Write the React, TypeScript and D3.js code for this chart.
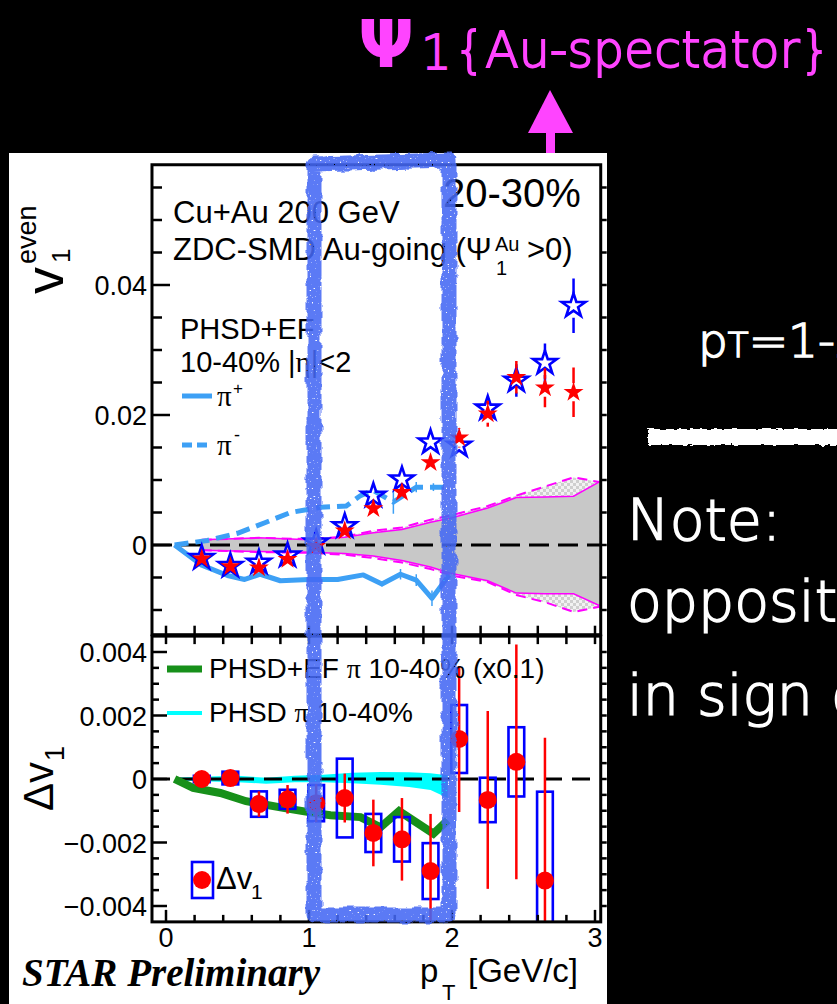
import React from 'react';
import * as d3 from 'd3';

// ---- v1 even vs pT (upper panel) ----
const ptBins = [0.25, 0.45, 0.65, 0.85, 1.05, 1.25, 1.45, 1.65, 1.85, 2.05, 2.25, 2.45, 2.65, 2.85];
const v1Filled = [-0.0021, -0.0033, -0.0035, -0.0022, -0.0002, 0.0022, 0.0056, 0.0081, 0.0127, 0.0165, 0.0202, 0.0258, 0.0242, 0.0235];
const v1FilledErr = [0.0005, 0.0005, 0.0005, 0.0005, 0.0006, 0.0007, 0.0008, 0.0010, 0.0012, 0.0015, 0.0020, 0.0025, 0.0030, 0.0038];
const v1Open = [-0.0020, -0.0032, -0.0027, -0.0016, 0.0004, 0.0029, 0.0076, 0.0101, 0.0158, 0.0153, 0.0210, 0.0253, 0.0280, 0.0368];
const v1OpenErr = [0.0005, 0.0005, 0.0005, 0.0005, 0.0006, 0.0007, 0.0009, 0.0011, 0.0013, 0.0015, 0.0016, 0.0025, 0.0030, 0.0042];

// systematic band around zero (solid and dashed variants)
const bandPt = [0.25, 0.65, 1.0, 1.25, 1.45, 1.65, 1.85, 2.0, 2.25, 2.45, 2.65, 2.85, 3.03];
const bandHi = [0.0008, 0.0011, 0.0008, 0.0012, 0.0019, 0.0024, 0.0035, 0.0042, 0.0057, 0.0073, 0.0074, 0.0075, 0.0097];
const bandLo = [-0.0008, -0.0010, -0.0011, -0.0013, -0.0017, -0.0024, -0.0034, -0.0044, -0.0055, -0.0074, -0.0075, -0.0075, -0.0093];
const bandDashHi = [0.0008, 0.0011, 0.0009, 0.0013, 0.0022, 0.0027, 0.0039, 0.0046, 0.0060, 0.0076, 0.0090, 0.0104, 0.0097];
const bandDashLo = [-0.0008, -0.0011, -0.0012, -0.0015, -0.0020, -0.0027, -0.0037, -0.0047, -0.0057, -0.0077, -0.0088, -0.0103, -0.0095];

// PHSD+EF model curves
const piPlusPt = [0.06, 0.25, 0.43, 0.55, 0.66, 0.8, 1.0, 1.2, 1.38, 1.51, 1.64, 1.75, 1.86, 1.98];
const piPlusV1 = [0, -0.0031, -0.0047, -0.0053, -0.0045, -0.0055, -0.0053, -0.0053, -0.0046, -0.0060, -0.0045, -0.0054, -0.0082, -0.0046];
const piPlusErr = [0, 0, 0, 0, 0, 0, 0, 0, 0, 0.0004, 0.0008, 0.0009, 0.0012, 0];
const piMinusPt = [0.06, 0.29, 0.5, 0.7, 0.87, 1.08, 1.26, 1.36, 1.45, 1.59, 1.75, 1.87, 1.95];
const piMinusV1 = [0, 0.0007, 0.0018, 0.0035, 0.0050, 0.0058, 0.0060, 0.0076, 0.0084, 0.0066, 0.0089, 0.0089, 0.0089];
const piMinusErr = [0, 0, 0, 0, 0, 0, 0, 0, 0, 0.0018, 0.0008, 0.0006, 0];

// ---- Delta v1 vs pT (lower panel) ----
const dv1Pt = [0.25, 0.45, 0.65, 0.85, 1.05, 1.25, 1.45, 1.65, 1.85, 2.05, 2.25, 2.45, 2.65];
const dv1 = [0.0000, 0.00003, -0.00079, -0.00064, -0.00076, -0.0006, -0.0017, -0.0019, -0.0029, 0.00126, -0.00066, 0.00054, -0.0032];
const dv1Stat = [0.0001, 0.00025, 0.0004, 0.00045, 0.0006, 0.00077, 0.00105, 0.0013, 0.0018, 0.0023, 0.0028, 0.0037, 0.0045];
const dv1Sys = [0.0001, 0.0002, 0.0004, 0.0003, 0.00057, 0.00124, 0.0006, 0.0007, 0.00088, 0.00107, 0.0007, 0.00109, 0.0028];

const efPt = [0.06, 0.19, 0.38, 0.56, 0.82, 1.02, 1.15, 1.36, 1.5, 1.63, 1.87, 1.97];
const efDv1 = [0, -0.00028, -0.00044, -0.0007, -0.00091, -0.00106, -0.00114, -0.0012, -0.00152, -0.00101, -0.00172, -0.0013];

const phsdPt = [0.1, 0.3, 0.5, 0.7, 0.9, 1.1, 1.3, 1.5, 1.7, 1.85, 1.97];
const phsdHi = [0.00005, 0.00008, 0.0001, 0.00004, 0.0001, 0.00013, 0.0002, 0.00022, 0.00021, 0.00018, 0.00012];
const phsdLo = [-0.00005, -0.00008, -0.0001, -0.00015, -0.0001, -0.0001, -0.00013, -0.00018, -0.00025, -0.00035, -0.0006];

// ---- axis labels ----
const v1TickValues = [0, 0.02, 0.04];
const dv1TickValues = [-0.004, -0.002, 0, 0.002, 0.004];
const ptTickValues = [0, 1, 2, 3];

const SANS = 'Liberation Sans, Arial, Helvetica, sans-serif';
const SERIF = 'Liberation Serif, Times New Roman, serif';
const SLIDE = 'DejaVu Sans, Verdana, sans-serif';
const MAGENTA = '#ff44ff';

export default function App() {
  const x = d3.scaleLinear().domain([0, 3]).range([166, 595]);
  const yT = d3.scaleLinear().domain([0, 0.04]).range([545, 285]);
  const yB = d3.scaleLinear().domain([0, 0.004]).range([779, 652]);

  const L = x(-0.098);
  const R = x(3.04);
  const tTop = yT(0.0585);
  const tBot = yT(-0.0138);
  const bTop = yB(0.0045);
  const bBot = yB(-0.0045);

  const star = (r: number) => d3.symbol(d3.symbolStar, (r * r) / 0.8908130915292852)() as string;
  const lineT = d3.line<[number, number]>().x(d => x(d[0])).y(d => yT(d[1]));
  const lineB = d3.line<[number, number]>().x(d => x(d[0])).y(d => yB(d[1]));
  const areaT = (hi: number[], lo: number[]) =>
    d3.area<number>().x((_, i) => x(bandPt[i])).y0((_, i) => yT(lo[i])).y1((_, i) => yT(hi[i]))(bandPt) as string;
  const areaB = d3.area<number>().x(d => x(d)).y0((_, i) => yB(phsdLo[i])).y1((_, i) => yB(phsdHi[i]))(phsdPt) as string;

  const fmtTop = (v: number) => (v === 0 ? '0' : d3.format('.2f')(v));
  const fmtBot = (v: number) => (v === 0 ? '0' : d3.format('.3f')(v));

  const topMinor = d3.range(-2, 12).map(i => ({ v: i * 0.005, major: i % 4 === 0 }));
  const botMinor = d3.range(-8, 9).map(i => ({ v: i * 0.0005, major: i % 4 === 0 }));
  const ptMinor = d3.range(0, 16).map(i => ({ v: i * 0.2, major: i % 5 === 0 }));

  // error bar split around an open/filled marker
  const gappedErr = (cx: number, v: number, e: number, gap: number, color: string, key: string) => {
    const cy = yT(v);
    const hi = yT(v + e);
    const lo = yT(v - e);
    const segs: JSX.Element[] = [];
    if (hi < cy - gap) segs.push(<line key={key + 'a'} x1={cx} x2={cx} y1={hi} y2={cy - gap} stroke={color} strokeWidth={2.5} />);
    if (lo > cy + gap) segs.push(<line key={key + 'b'} x1={cx} x2={cx} y1={cy + gap} y2={lo} stroke={color} strokeWidth={2.5} />);
    return segs;
  };

  const boxHalf = 0.055;

  return (
    <svg width={837} height={1004} viewBox="0 0 837 1004" style={{ position: 'absolute', left: 0, top: 0, display: 'block' }}>
      <defs>
        <clipPath id="clipTop"><rect x={L} y={tTop} width={R - L} height={tBot - tTop} /></clipPath>
        <clipPath id="clipBot"><rect x={L} y={bTop} width={R - L} height={bBot - bTop} /></clipPath>
        <clipPath id="clipPage"><rect x={0} y={0} width={837} height={1004} /></clipPath>
        <pattern id="checker" width={6} height={6} patternUnits="userSpaceOnUse">
          <rect width={6} height={6} fill="#f2f2f2" />
          <rect width={3} height={3} fill="#cfcfcf" />
          <rect x={3} y={3} width={3} height={3} fill="#cfcfcf" />
        </pattern>
        <filter id="marker" x="-10%" y="-5%" width="120%" height="110%">
          <feTurbulence type="fractalNoise" baseFrequency="0.09" numOctaves="2" seed="3" result="warp" />
          <feDisplacementMap in="SourceGraphic" in2="warp" scale="7" xChannelSelector="R" yChannelSelector="G" result="moved" />
          <feTurbulence type="fractalNoise" baseFrequency="0.5" numOctaves="1" seed="11" result="grain" />
          <feColorMatrix in="grain" type="matrix" values="0 0 0 0 0  0 0 0 0 0  0 0 0 0 0  0 0 0 -16 12.2" result="holes" />
          <feComposite in="moved" in2="holes" operator="in" />
        </filter>
        <filter id="chalk" x="-5%" y="-60%" width="110%" height="220%">
          <feTurbulence type="fractalNoise" baseFrequency="0.15 0.4" numOctaves="2" seed="7" result="warp" />
          <feDisplacementMap in="SourceGraphic" in2="warp" scale="5" xChannelSelector="R" yChannelSelector="G" />
        </filter>
      </defs>

      <rect x={0} y={0} width={837} height={1004} fill="#000" />

      {/* slide annotations */}
      <g fill={MAGENTA}>
        <text x={358} y={67} fontFamily={SLIDE} fontWeight="bold" fontSize={66}>Ψ</text>
        <g stroke={MAGENTA} strokeWidth={1.8} fontFamily={SLIDE} fontWeight={200}>
          <text x={421} y={69} fontSize={48}>1</text>
          <text x={454} y={67} fontSize={49}>{'{Au-spectator}'}</text>
        </g>
        <polygon points="550,90 528,133 573,133" />
        <rect x={546} y={131} width={9} height={50} />
      </g>
      <g fill="#fff" stroke="#fff" strokeWidth={1.5} fontFamily={SLIDE} fontWeight={200} clipPath="url(#clipPage)">
        <text x={698} y={357} fontSize={47}>p<tspan fontSize={34}>T</tspan>=1-2 GeV/c</text>
        <text x={627} y={540} fontSize={57}>Note:</text>
        <text x={627} y={621} fontSize={57}>opposite</text>
        <text x={627} y={715} fontSize={57}>in sign of</text>
      </g>
      <rect x={648} y={429} width={200} height={16} fill="#fff" filter="url(#chalk)" />

      {/* figure canvas */}
      <rect x={9} y={153} width={598} height={851} fill="#fff" />

      {/* ===== upper panel ===== */}
      <g clipPath="url(#clipTop)">
        <path d={areaT(bandDashHi, bandDashLo)} fill="url(#checker)" />
        <path d={areaT(bandHi, bandLo)} fill="#c8c8c8" />
        <path d={lineT(bandPt.map((p, i) => [p, bandDashHi[i]]) as [number, number][]) as string} fill="none" stroke="#ff00ff" strokeWidth={2} strokeDasharray="10 6" />
        <path d={lineT(bandPt.map((p, i) => [p, bandDashLo[i]]) as [number, number][]) as string} fill="none" stroke="#ff00ff" strokeWidth={2} strokeDasharray="10 6" />
        <path d={lineT(bandPt.map((p, i) => [p, bandHi[i]]) as [number, number][]) as string} fill="none" stroke="#ff00ff" strokeWidth={1.5} />
        <path d={lineT(bandPt.map((p, i) => [p, bandLo[i]]) as [number, number][]) as string} fill="none" stroke="#ff00ff" strokeWidth={1.5} />
        <line x1={L} x2={R} y1={yT(0)} y2={yT(0)} stroke="#000" strokeWidth={3} strokeDasharray="20 9" />

        {piPlusPt.map((p, i) => piPlusErr[i] > 0 && (
          <line key={'ppe' + i} x1={x(p)} x2={x(p)} y1={yT(piPlusV1[i] + piPlusErr[i])} y2={yT(piPlusV1[i] - piPlusErr[i])} stroke="#3da0f5" strokeWidth={1.5} />
        ))}
        {piMinusPt.map((p, i) => piMinusErr[i] > 0 && (
          <line key={'pme' + i} x1={x(p)} x2={x(p)} y1={yT(piMinusV1[i] + piMinusErr[i])} y2={yT(piMinusV1[i] - piMinusErr[i])} stroke="#3da0f5" strokeWidth={1.5} />
        ))}
        <path d={lineT(piPlusPt.map((p, i) => [p, piPlusV1[i]]) as [number, number][]) as string} fill="none" stroke="#3da0f5" strokeWidth={5} strokeLinejoin="round" />
        <path d={lineT(piMinusPt.map((p, i) => [p, piMinusV1[i]]) as [number, number][]) as string} fill="none" stroke="#3da0f5" strokeWidth={5} strokeDasharray="14 7" />

        {ptBins.map((p, i) => gappedErr(x(p), v1Open[i], v1OpenErr[i], 12, '#0000ff', 'oe' + i))}
        {ptBins.map((p, i) => (
          <path key={'os' + i} d={star(12.5)} transform={`translate(${x(p)},${yT(v1Open[i])})`} fill="none" stroke="#0000ff" strokeWidth={2.6} strokeLinejoin="miter" />
        ))}
        {ptBins.map((p, i) => gappedErr(x(p), v1Filled[i], v1FilledErr[i], 9, '#ff0000', 'fe' + i))}
        {ptBins.map((p, i) => (
          <path key={'fs' + i} d={star(10.5)} transform={`translate(${x(p)},${yT(v1Filled[i])})`} fill="#ff0000" />
        ))}
      </g>

      {/* upper frame and ticks */}
      <g stroke="#000" fill="none">
        <rect x={L} y={tTop} width={R - L} height={tBot - tTop} strokeWidth={3} />
        {topMinor.map(t => (
          <g key={'tt' + t.v}>
            <line x1={L} x2={L + (t.major ? 18 : 10)} y1={yT(t.v)} y2={yT(t.v)} strokeWidth={2.5} />
            <line x1={R} x2={R + 6} y1={yT(t.v)} y2={yT(t.v)} strokeWidth={2.5} />
          </g>
        ))}
        {ptMinor.map(t => (
          <line key={'tx' + t.v} x1={x(t.v)} x2={x(t.v)} y1={tBot} y2={tBot - 9} strokeWidth={2.5} />
        ))}
      </g>
      <g fontFamily={SANS} fontSize={27} textAnchor="end" fill="#000">
        {v1TickValues.map(v => (
          <text key={'tl' + v} x={147} y={yT(v) + 10}>{fmtTop(v)}</text>
        ))}
      </g>
      <g transform="translate(63,294) rotate(-90)" fontFamily={SANS} fill="#000">
        <text x={0} y={0} fontSize={54}>v</text>
        <text x={31} y={7} fontSize={26}>1</text>
        <text x={30} y={-27} fontSize={27}>even</text>
      </g>

      {/* upper panel labels */}
      <g fontFamily={SANS} fill="#000">
        <text x={443} y={207} fontSize={40}>20-30%</text>
        <text x={173} y={223} fontSize={31}>Cu+Au 200 GeV</text>
        <text x={173} y={260} fontSize={31}>ZDC-SMD Au-going (Ψ</text>
        <text x={495} y={251} fontSize={20}>Au</text>
        <text x={496} y={275} fontSize={20}>1</text>
        <text x={527} y={260} fontSize={31}>&gt;0)</text>
        <text x={180} y={339} fontSize={29}>PHSD+EF</text>
        <text x={180} y={372} fontSize={29}>10-40% |<tspan fontFamily={SERIF}>η</tspan>|&lt;2</text>
        <line x1={182} x2={212} y1={396} y2={396} stroke="#3da0f5" strokeWidth={5} />
        <text x={217} y={406} fontSize={29} fontFamily={SERIF}>π</text>
        <text x={233} y={394} fontSize={17}>+</text>
        <line x1={182} x2={212} y1={445} y2={445} stroke="#3da0f5" strokeWidth={5} strokeDasharray="10 5" />
        <text x={217} y={455} fontSize={29} fontFamily={SERIF}>π</text>
        <text x={234} y={441} fontSize={18}>-</text>
      </g>

      {/* ===== lower panel ===== */}
      <g clipPath="url(#clipBot)">
        <path d={areaB} fill="#00ffff" />
        <line x1={L} x2={R} y1={yB(0)} y2={yB(0)} stroke="#000" strokeWidth={3} strokeDasharray="18 10" />
        <path d={lineB(efPt.map((p, i) => [p, efDv1[i]]) as [number, number][]) as string} fill="none" stroke="#17901a" strokeWidth={8} strokeLinejoin="miter" />
        {dv1Pt.map((p, i) => (
          <rect key={'sb' + i} x={x(p - boxHalf)} y={yB(dv1[i] + dv1Sys[i])} width={x(p + boxHalf) - x(p - boxHalf)} height={yB(dv1[i] - dv1Sys[i]) - yB(dv1[i] + dv1Sys[i])} fill="none" stroke="#0000ff" strokeWidth={2.6} />
        ))}
        {dv1Pt.map((p, i) => (
          <line key={'se' + i} x1={x(p)} x2={x(p)} y1={yB(dv1[i] + dv1Stat[i])} y2={yB(dv1[i] - dv1Stat[i])} stroke="#ff0000" strokeWidth={2.5} />
        ))}
        {dv1Pt.map((p, i) => (
          <circle key={'dp' + i} cx={x(p)} cy={yB(dv1[i])} r={9} fill="#ff0000" />
        ))}
      </g>

      <g stroke="#000" fill="none">
        <rect x={L} y={bTop} width={R - L} height={bBot - bTop} strokeWidth={3} />
        {botMinor.map(t => (
          <g key={'bt' + t.v}>
            <line x1={L} x2={L + (t.major ? 15 : 7)} y1={yB(t.v)} y2={yB(t.v)} strokeWidth={2.5} />
            <line x1={R} x2={R + 6} y1={yB(t.v)} y2={yB(t.v)} strokeWidth={2.5} />
          </g>
        ))}
        {ptMinor.map(t => (
          <g key={'bx' + t.v}>
            <line x1={x(t.v)} x2={x(t.v)} y1={bBot} y2={bBot - (t.major ? 12 : 7)} strokeWidth={2.5} />
            <line x1={x(t.v)} x2={x(t.v)} y1={bTop} y2={bTop + 8} strokeWidth={2.5} />
          </g>
        ))}
      </g>
      <g fontFamily={SANS} fontSize={27} fill="#000">
        {dv1TickValues.map(v => (
          <text key={'bl' + v} x={147} y={yB(v) + 10} textAnchor="end">{fmtBot(v)}</text>
        ))}
        {ptTickValues.map(v => (
          <text key={'xl' + v} x={x(v)} y={947} textAnchor="middle">{v}</text>
        ))}
      </g>
      <g transform="translate(53,811) rotate(-90)" fontFamily={SANS} fill="#000">
        <text x={0} y={0} fontSize={42}>Δv</text>
        <text x={50} y={11} fontSize={27}>1</text>
      </g>
      <g fontFamily={SANS} fill="#000">
        <text x={420} y={982} fontSize={33}>p</text>
        <text x={442} y={1000} fontSize={22}>T</text>
        <text x={468} y={982} fontSize={33}>[GeV/c]</text>
      </g>
      <text x={22} y={986} fontFamily={SERIF} fontStyle="italic" fontWeight="bold" fontSize={39} fill="#000">STAR Preliminary</text>

      {/* lower panel legend */}
      <g fontFamily={SANS} fontSize={28} fill="#000">
        <line x1={167} x2={202} y1={669} y2={669} stroke="#17901a" strokeWidth={7} />
        <text x={209} y={678}>PHSD+EF <tspan fontFamily={SERIF}>π</tspan> 10-40% (x0.1)</text>
        <line x1={167} x2={202} y1={713} y2={713} stroke="#00ffff" strokeWidth={4} />
        <text x={209} y={722}>PHSD <tspan fontFamily={SERIF}>π</tspan> 10-40%</text>
        <rect x={192} y={862} width={21} height={36} fill="none" stroke="#0000ff" strokeWidth={2.6} />
        <circle cx={202} cy={880} r={9} fill="#ff0000" />
        <text x={216} y={889} fontSize={31}>Δv</text>
        <text x={251} y={899} fontSize={21}>1</text>
      </g>

      {/* hand-drawn highlight of the 1-2 GeV/c window */}
      <path d="M314,164 L449,160 L449,915 L314,915 Z" fill="none" stroke="#4468f4" strokeOpacity={0.88} strokeWidth={15} strokeLinejoin="round" filter="url(#marker)" />
    </svg>
  );
}
